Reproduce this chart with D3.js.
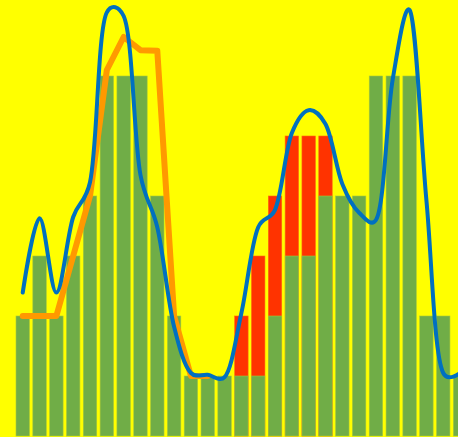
<!DOCTYPE html>
<html>
<head>
<meta charset="utf-8">
<script src="https://cdn.jsdelivr.net/npm/d3@7/dist/d3.min.js"></script>
<style>
  html, body { margin: 0; padding: 0; background: #FFFF00; overflow: hidden; }
  svg { display: block; }
</style>
</head>
<body>
<svg id="chart" width="458" height="437"></svg>
<script>
// ---- data ----
const categories = d3.range(1, 28); // 27 bins
const greenValues = [2,3,2,3,4,6,6,6,4,2,1,1,1,1,1,2,3,3,4,4,4,6,6,6,2,2,1];
const redValues   = [0,0,0,0,0,0,0,0,0,0,0,0,0,2,3,4,5,5,5,0,0,0,0,0,0,0,0];
const orangeValues = [2,2,2,3,4,6.1,6.65,6.43,6.42,2,1,1];
const blueValues = [2.39,3.63,2.39,3.65,4.23,7.06,7.0,4.35,3.48,1.82,1.05,1.02,0.98,
                    2.05,3.48,3.77,5.05,5.43,5.2,4.2,3.72,3.6,5.95,7.1,3.93,1.05,1.05];

const W = 458, H = 437;
const svg = d3.select("#chart");

svg.append("rect").attr("width", W).attr("height", H).attr("fill", "#FFFF00");

const x = d3.scaleBand()
  .domain(categories)
  .range([14.32, 14.32 + 27 * 16.82])
  .paddingInner(0.2)
  .paddingOuter(0.1);

const y = d3.scaleLinear().domain([0, 7.25]).range([436, 1]);

const cx = i => x(categories[i]) + x.bandwidth() / 2;

// red bars (behind)
svg.append("g").selectAll("rect")
  .data(redValues.map((v, i) => ({ c: categories[i], v })).filter(d => d.v > 0))
  .join("rect")
  .attr("x", d => x(d.c))
  .attr("width", x.bandwidth())
  .attr("y", d => y(d.v))
  .attr("height", d => y(0) - y(d.v))
  .attr("fill", "#FF3300")
  .attr("stroke", "#FF6a10")
  .attr("stroke-width", 0.6);

// green bars
svg.append("g").selectAll("rect")
  .data(greenValues.map((v, i) => ({ c: categories[i], v })))
  .join("rect")
  .attr("x", d => x(d.c))
  .attr("width", x.bandwidth())
  .attr("y", d => y(d.v))
  .attr("height", d => y(0) - y(d.v))
  .attr("fill", "#70AD47")
  .attr("stroke", "#a6c83a")
  .attr("stroke-width", 0.6);

// orange line
const orangeLine = d3.line()
  .x((d, i) => cx(i))
  .y(d => y(d));
svg.append("path")
  .datum(orangeValues)
  .attr("d", orangeLine)
  .attr("fill", "none")
  .attr("stroke", "#FF9900")
  .attr("stroke-width", 6)
  .attr("stroke-linecap", "round")
  .attr("stroke-linejoin", "round");

// blue smooth line
const blueLine = d3.line()
  .x((d, i) => cx(i))
  .y(d => y(d))
  .curve(d3.curveCatmullRom.alpha(0.3));
svg.append("path")
  .datum(blueValues)
  .attr("d", blueLine)
  .attr("fill", "none")
  .attr("stroke", "#0070C0")
  .attr("stroke-width", 4)
  .attr("stroke-linecap", "round")
  .attr("stroke-linejoin", "round");
</script>
</body>
</html>
